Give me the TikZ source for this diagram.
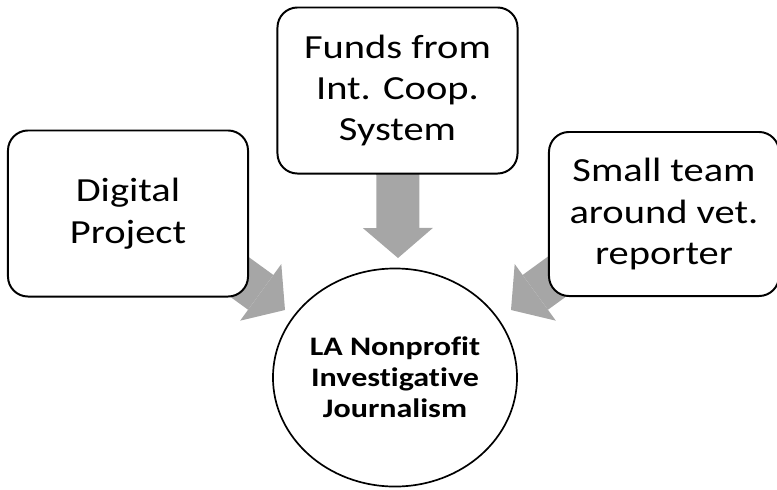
\documentclass[tikz,border=0pt]{standalone}
\usepackage{fontspec}
\setmainfont[FakeStretch=1.2, Ligatures=NoCommon]{Carlito}
\usetikzlibrary{arrows.meta}
\usetikzlibrary{backgrounds}
\usetikzlibrary{shapes.geometric}
\definecolor{arrowgray}{RGB}{166,166,166}

\begin{document}
\begin{tikzpicture}[x=0.025cm, y=-0.025cm,
	box/.style={draw, line width=1.4pt, rounded corners=0.5cm, fill=white, minimum width=6cm, minimum height=4.15cm, align=center, font=\fontsize{24}{29.5}\selectfont},
	hub/.style={draw, ellipse, line width=1.2pt, fill=white, minimum width=6.1cm, minimum height=5.45cm, inner sep=0pt, align=center, font=\fontsize{19}{22}\selectfont\bfseries},
	feed/.style={arrowgray, line width=1.075cm, -{Triangle[width=1.75cm, length=0.75cm, line width=0pt]}}]
	\useasboundingbox (0,0) rectangle (777,489);
	\node[box] (digital) at (128,213.5) {Digital\\Project};
	\node[box] (funds) at (397.5,90.5) {Funds from\\Int. Coop.\\System};
	\node[box, minimum width=5.75cm, minimum height=4.1cm] (team) at (664,214) {Small team\\around vet.\\reporter};
	\node[hub] (la) at (395,377.5) {LA Nonprofit\\Investigative\\Journalism};
	\coordinate (tipl) at (285,310);
	\coordinate (tipm) at (398,258);
	\coordinate (tipr) at (511,310);
	\begin{scope}[on background layer]
		\draw[feed] (digital.center) ++(60,26) -- (tipl);
		\draw[feed] (funds.center) -- (tipm);
		\draw[feed] (team.center) ++(-56,25.5) -- (tipr);
	\end{scope}
\end{tikzpicture}
\end{document}
